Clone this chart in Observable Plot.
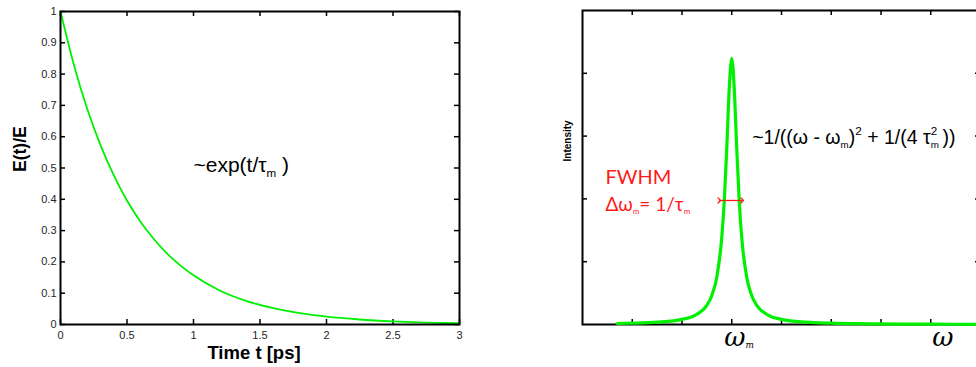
<!DOCTYPE html>
<html>
<head>
<meta charset="utf-8">
<script src="https://cdn.jsdelivr.net/npm/d3@7"></script>
<script src="https://cdn.jsdelivr.net/npm/@observablehq/plot@0.6"></script>
<style>
  html, body { margin: 0; padding: 0; background: #fff; }
  #wrap { position: relative; width: 976px; height: 367px; overflow: hidden; }
  #wrap > svg { position: absolute; top: 0; }
</style>
</head>
<body>
<div id="wrap"></div>
<script>
// Field envelope decaying in time
const timeT  = [0, 0.1, 0.2, 0.3, 0.4, 0.5, 0.6, 0.7, 0.8, 0.9, 1.0, 1.2, 1.4, 1.6, 1.8, 2.0, 2.25, 2.5, 2.75, 3.0];
const fieldE = [1, 0.831, 0.690, 0.574, 0.477, 0.396, 0.329, 0.274, 0.227, 0.189, 0.157, 0.108, 0.075, 0.052, 0.036, 0.025, 0.016, 0.010, 0.006, 0.004];
const timeTicks  = [0, 0.5, 1, 1.5, 2, 2.5, 3];
const fieldTicks = [0, 0.1, 0.2, 0.3, 0.4, 0.5, 0.6, 0.7, 0.8, 0.9, 1];

// Lorentzian line shape around the mode frequency
const omega     = [0.7, 1, 1.5, 2, 2.25, 2.5, 2.6, 2.7, 2.8, 2.85, 2.9, 2.95, 3, 3.05, 3.1, 3.15, 3.2, 3.3, 3.4, 3.5, 3.75, 4, 4.5, 5, 5.5, 6, 7, 8];
const intensity = [0.016, 0.021, 0.037, 0.082, 0.143, 0.308, 0.463, 0.758, 1.39, 1.97, 2.81, 3.76, 4.24, 3.76, 2.81, 1.97, 1.39, 0.758, 0.463, 0.308, 0.143, 0.082, 0.037, 0.021, 0.013, 0.009, 0.005, 0.003];
const omegaTicks     = [1, 2, 3, 4, 5, 6, 7];
const intensityTicks = [1, 2, 3, 4];

// FWHM marker, in frequency units
const fwhmSpan = [2.75, 3.21];
const fwhmLevel = 1.975;

// Labels (_{..} subscript, ^{..} superscript)
const decayLabel     = "~exp(t/τ_{m} )";
const lineShapeLabel = "~1/((ω - ω_{m})^{2} + 1/(4 τ_{m}^{2} ))";
const fwhmLabels     = ["FWHM", "Δω_{m}= 1/τ_{m}"];
const omegaLabels    = ["ω_{m}", "ω"];
const axisTitles     = ["Time t [ps]", "E(t)/E", "Intensity"];

const GREEN = "#00f000";
const RED = "#ff1a1a";
const SANS = "'Liberation Sans', Arial, sans-serif";

// Inward box ticks on all four sides
function boxTicks(xs, ys, iw, ih, len) {
  const o = {stroke: "#000", strokeWidth: 1.5};
  return [
    Plot.tickX(xs, {x: d => d, insetTop: ih - len, ...o}),
    Plot.tickX(xs, {x: d => d, insetBottom: ih - len, ...o}),
    Plot.tickY(ys, {y: d => d, insetRight: iw - len, ...o}),
    Plot.tickY(ys, {y: d => d, insetLeft: iw - len, ...o})
  ];
}

// ---- left panel: E(t)/E versus time
const L = {w: 490, h: 367, ml: 60, mr: 31, mt: 11, mb: 43};
const decay = timeT.map((t, i) => ({t, e: fieldE[i]}));
const left = Plot.plot({
  width: L.w, height: L.h,
  marginLeft: L.ml, marginRight: L.mr, marginTop: L.mt, marginBottom: L.mb,
  style: {fontFamily: SANS, fontSize: "11px", color: "#262626", background: "transparent"},
  x: {domain: [0, 3], ticks: timeTicks, tickSize: 0, tickPadding: 7, tickFormat: d3.format("~g"), label: null},
  y: {domain: [0, 1], ticks: fieldTicks, tickSize: 0, tickPadding: 4, tickFormat: d3.format("~g"), label: null},
  marks: [
    ...boxTicks(timeTicks, fieldTicks, L.w - L.ml - L.mr, L.h - L.mt - L.mb, 5),
    Plot.line(decay, {x: "t", y: "e", stroke: GREEN, strokeWidth: 1.8, curve: "monotone-x"}),
    Plot.frame({stroke: "#000", strokeWidth: 2}),
    Plot.text([decayLabel], {x: 1.0, y: 0.486, text: d => d, textAnchor: "start", lineAnchor: "bottom", fontSize: 21, fill: "#000", fontFamily: SANS}),
    Plot.text([axisTitles[0]], {frameAnchor: "bottom", text: d => d, dx: -6, dy: 34, lineAnchor: "bottom", fontSize: 18.5, fontWeight: "bold", fill: "#000", fontFamily: SANS}),
    Plot.text([axisTitles[1]], {frameAnchor: "left", text: d => d, rotate: -90, dx: -40, dy: 4, fontSize: 17.5, fontWeight: "bold", fill: "#000", fontFamily: SANS})
  ]
});

// ---- right panel: spectral intensity versus frequency
const R = {w: 494, h: 367, ml: 92, mr: 4, mt: 10, mb: 43};
const spectrum = omega.map((w, i) => ({w, s: intensity[i]}));
const right = Plot.plot({
  width: R.w, height: R.h,
  marginLeft: R.ml, marginRight: R.mr, marginTop: R.mt, marginBottom: R.mb,
  style: {fontFamily: SANS, fontSize: "11px", color: "#000", background: "transparent"},
  x: {domain: [0, 8], axis: null},
  y: {domain: [0, 5], axis: null},
  marks: [
    ...boxTicks(omegaTicks, intensityTicks, R.w - R.ml - R.mr, R.h - R.mt - R.mb, 5),
    Plot.frame({stroke: "#000", strokeWidth: 2}),
    Plot.line(spectrum, {x: "w", y: "s", stroke: GREEN, strokeWidth: 3.2, curve: "monotone-x"}),
    Plot.link([fwhmSpan], {x1: d => d[0], x2: d => d[1], y1: fwhmLevel, y2: fwhmLevel, stroke: RED, strokeWidth: 1.3, markerStart: "arrow", markerEnd: "arrow"}),
    Plot.text([lineShapeLabel], {x: 3.41, y: 2.88, text: d => d, textAnchor: "start", lineAnchor: "bottom", fontSize: 19.5, fill: "#000", fontFamily: SANS}),
    Plot.text([fwhmLabels[0]], {x: 0.46, y: 2.245, text: d => d, textAnchor: "start", lineAnchor: "bottom", fontSize: 20, fill: RED, fontFamily: "Lato, sans-serif"}),
    Plot.text([fwhmLabels[1]], {x: 0.46, y: 1.815, text: d => d, textAnchor: "start", lineAnchor: "bottom", fontSize: 19, fill: RED, fontFamily: "Lato, sans-serif"}),
    Plot.text([omegaLabels[0]], {x: 2.85, frameAnchor: "bottom", dy: 21, text: d => d, textAnchor: "start", lineAnchor: "bottom", fontSize: 26, fontStyle: "italic", fill: "#000", fontFamily: "'DejaVu Serif', serif"}),
    Plot.text([omegaLabels[1]], {x: 7.03, frameAnchor: "bottom", dy: 21, text: d => d, textAnchor: "start", lineAnchor: "bottom", fontSize: 26, fontStyle: "italic", fill: "#000", fontFamily: "'DejaVu Serif', serif"}),
    Plot.text([axisTitles[2]], {frameAnchor: "left", text: d => d, rotate: -90, dx: -15, dy: -6, fontSize: 10, fontWeight: "bold", fill: "#000", fontFamily: SANS})
  ]
});

const wrap = document.getElementById("wrap");
left.style.left = "0px";
right.style.left = "490px";
wrap.append(left, right);

// Turn _{..} / ^{..} markup into sub- and superscript tspans
const scriptStyle = new Map([
  [lineShapeLabel, {sub: 0.5, subShift: 0.2}],
  [fwhmLabels[1], {sub: 0.42, subShift: 0.16}],
  [omegaLabels[0], {sub: 0.34, subShift: 0.1}]
]);
function richText(svg) {
  d3.select(svg).selectAll("text").each(function () {
    const src = this.textContent;
    if (!/[_^]\{/.test(src)) return;
    const st = Object.assign({sub: 0.55, subShift: 0.22, sup: 0.6, supShift: 0.42}, scriptStyle.get(src) || {});
    const base = parseFloat(getComputedStyle(this).fontSize);
    const re = /([_^])\{([^}]*)\}|([^_^]+)/g;
    this.textContent = "";
    let shift = 0, prev = null, m;
    while ((m = re.exec(src))) {
      const kind = m[1] || "";
      const str = m[1] ? m[2] : m[3];
      const ts = document.createElementNS("http://www.w3.org/2000/svg", "tspan");
      let target = 0;
      if (kind === "_") { target = base * st.subShift; ts.setAttribute("font-size", base * st.sub); }
      if (kind === "^") { target = -base * st.supShift; ts.setAttribute("font-size", base * st.sup); }
      ts.setAttribute("dy", target - shift);
      shift = target;
      ts.textContent = str;
      this.appendChild(ts);
      if (kind === "^" && prev && prev.kind === "_") {
        ts.setAttribute("dx", -prev.el.getComputedTextLength());
      }
      prev = {kind, el: ts};
    }
  });
}
richText(left);
richText(right);
</script>
</body>
</html>
